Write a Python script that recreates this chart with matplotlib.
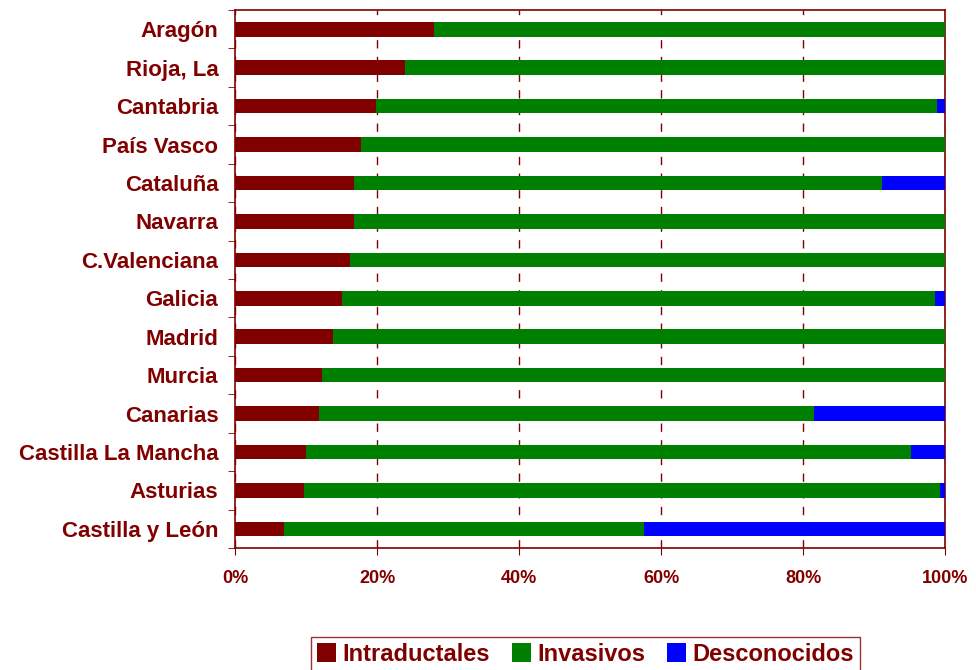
import numpy as np
import matplotlib.pyplot as plt
from matplotlib.ticker import FuncFormatter

regiones = ['Aragón', 'Rioja, La', 'Cantabria', 'País Vasco', 'Cataluña', 'Navarra',
            'C.Valenciana', 'Galicia', 'Madrid', 'Murcia', 'Canarias',
            'Castilla La Mancha', 'Asturias', 'Castilla y León']
intraductales = [28.0, 23.9, 19.9, 17.7, 16.8, 16.8, 16.2, 15.1, 13.8, 12.3, 11.8, 10.0, 9.7, 6.9]
invasivos = [72.0, 76.1, 79.0, 82.3, 74.3, 83.2, 83.8, 83.5, 86.2, 87.7, 69.7, 85.2, 89.6, 50.7]
desconocidos = [0.0, 0.0, 1.1, 0.0, 8.9, 0.0, 0.0, 1.4, 0.0, 0.0, 18.5, 4.8, 0.7, 42.4]

rojo = '#800000'
plt.rcParams['font.family'] = ['Liberation Sans', 'DejaVu Sans']
plt.rcParams['font.weight'] = 'bold'

fig = plt.figure(figsize=(9.76, 6.70), dpi=100)
ax = fig.add_axes([0.2408, 0.182, 0.7275, 0.803])

y = np.arange(len(regiones))
h = 0.38
intr = np.array(intraductales)
inv = np.array(invasivos)
des = np.array(desconocidos)
ax.barh(y, intr, height=h, color='#800000', label='Intraductales', zorder=3)
ax.barh(y, inv, left=intr, height=h, color='#008000', label='Invasivos', zorder=3)
ax.barh(y, des, left=intr + inv, height=h, color='#0000FF', label='Desconocidos', zorder=3)

ax.set_xlim(0, 100)
ax.set_ylim(len(regiones) - 0.5, -0.5)
ax.set_xticks([0, 20, 40, 60, 80, 100])
ax.xaxis.set_major_formatter(FuncFormatter(lambda v, p: '%d%%' % v))
ax.set_yticks(y)
ax.set_yticklabels(regiones)
ax.set_yticks(np.arange(-0.5, len(regiones), 1), minor=True)
ax.tick_params(axis='y', which='major', length=0, pad=12, labelsize=16, labelcolor=rojo)
ax.tick_params(axis='y', which='minor', length=5, color=rojo, direction='out')
ax.tick_params(axis='x', length=5, color=rojo, labelsize=13, labelcolor=rojo, pad=11)
for lab in ax.get_xticklabels() + ax.get_yticklabels():
    lab.set_fontweight('bold')

ax.grid(axis='x', color=rojo, linestyle=(0, (6, 6)), linewidth=1, zorder=1)
for s in ax.spines.values():
    s.set_color(rojo)
    s.set_linewidth(1.2)

leg = fig.legend(loc='lower center', bbox_to_anchor=(0.6, -0.02), ncol=3,
                 frameon=True, fancybox=False, handlelength=0.8, handleheight=0.8,
                 handletextpad=0.3, columnspacing=0.9, borderpad=0.25,
                 prop={'size': 17, 'weight': 'bold'})
leg.get_frame().set_edgecolor(rojo)
leg.get_frame().set_linewidth(1.0)
for t in leg.get_texts():
    t.set_color(rojo)

fig.savefig('out.png', dpi=100)
